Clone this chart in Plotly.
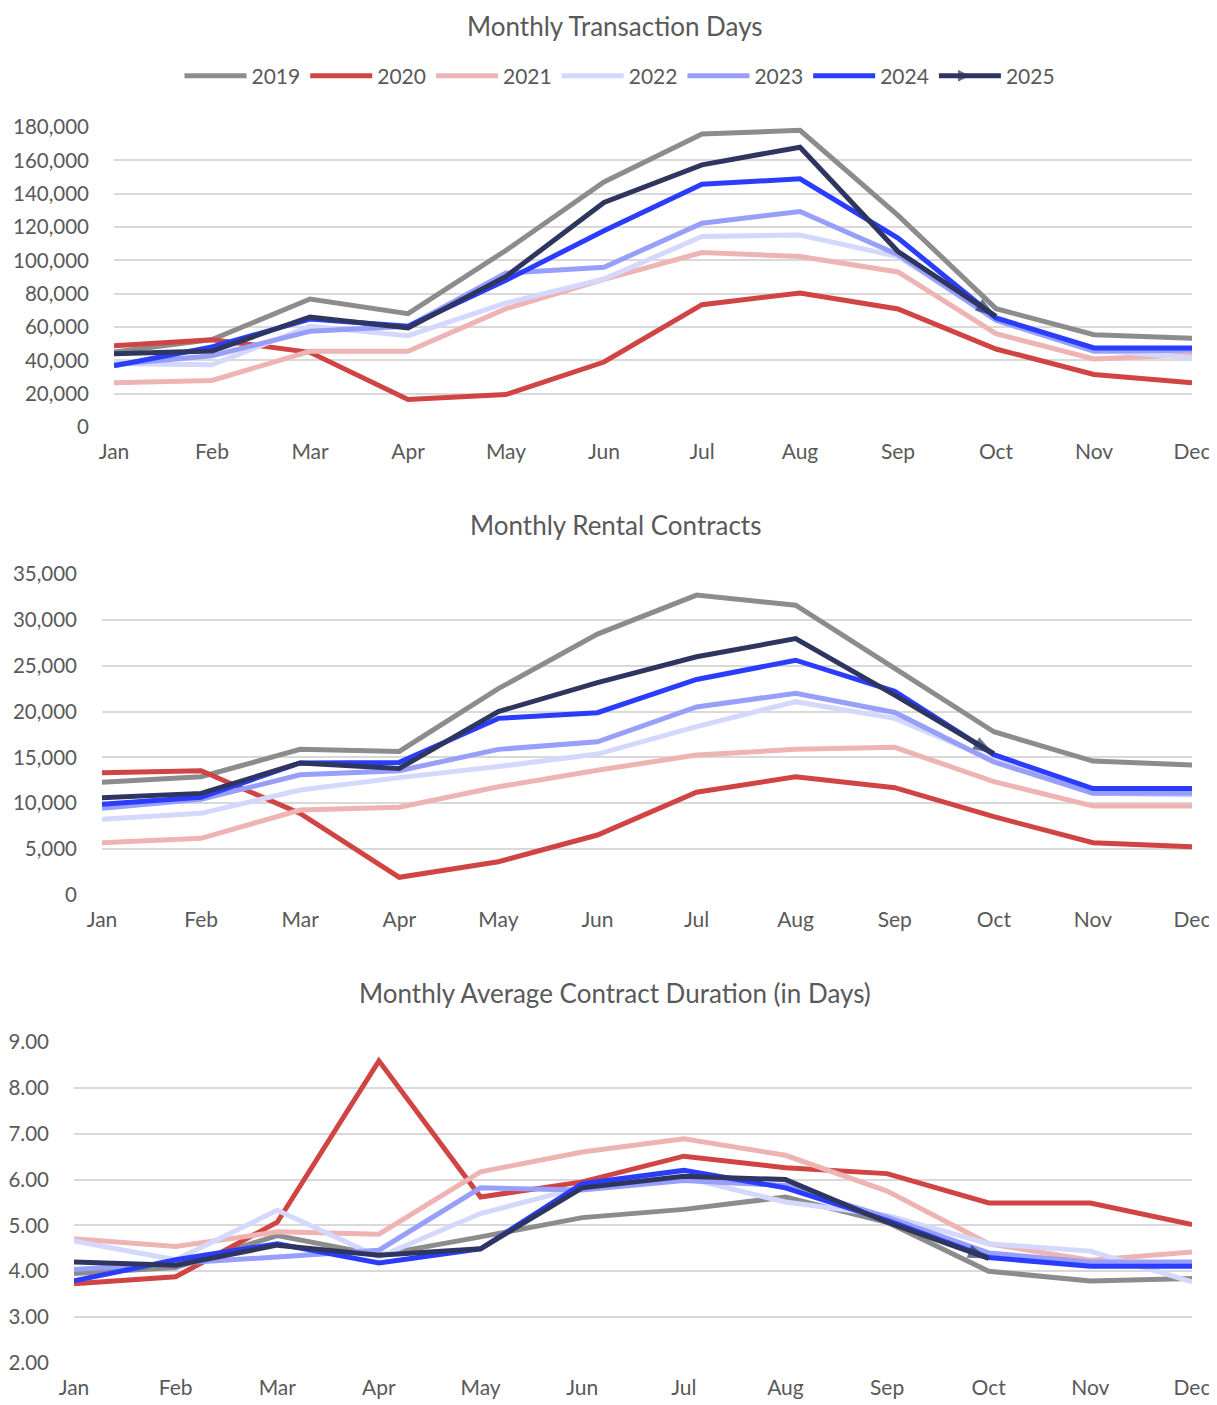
import plotly.graph_objects as go

months = ["Jan", "Feb", "Mar", "Apr", "May", "Jun", "Jul", "Aug", "Sep", "Oct", "Nov", "Dec"]
years = ["2019", "2020", "2021", "2022", "2023", "2024", "2025"]
colors = ["#8c8c8c", "#d04444", "#eeb4b4", "#d4d8fc", "#979ffa", "#2a3dff", "#2e3660"]

# Monthly Transaction Days
td_2019 = [45000, 52400, 76800, 68000, 106000, 147000, 175800, 178000, 127000, 71000, 55400, 53200]
td_2020 = [48800, 52400, 44800, 16500, 19500, 39000, 73400, 80400, 70800, 46800, 31500, 26500]
td_2021 = [26500, 27900, 45400, 45400, 71000, 88600, 104700, 102300, 93000, 56000, 40800, 43400]
td_2022 = [38000, 37400, 60400, 54800, 74400, 88800, 114300, 115200, 102300, 64400, 46400, 41500]
td_2023 = [37500, 42800, 57400, 60400, 92400, 95800, 122300, 129300, 103400, 64000, 45400, 46000]
td_2024 = [36800, 48000, 64800, 60400, 88000, 117700, 145700, 148900, 113400, 65400, 47400, 47400]
td_2025 = [44000, 45600, 66000, 59400, 90300, 134700, 157300, 167900, 105300, 66400]

# Monthly Rental Contracts
rc_2019 = [12280, 12900, 15880, 15660, 22500, 28450, 32700, 31600, 24700, 17800, 14600, 14170]
rc_2020 = [13340, 13550, 8900, 1930, 3630, 6540, 11200, 12900, 11700, 8540, 5700, 5270]
rc_2021 = [5700, 6180, 9270, 9560, 11800, 13600, 15260, 15880, 16100, 12360, 9700, 9700]
rc_2022 = [8250, 8900, 11450, 12800, 14000, 15370, 18350, 21080, 19260, 14700, 11100, 10900]
rc_2023 = [9450, 10430, 13100, 13550, 15880, 16700, 20500, 22000, 19900, 14500, 11100, 11100]
rc_2024 = [9900, 10650, 14400, 14460, 19260, 19880, 23500, 25600, 22200, 15300, 11600, 11600]
rc_2025 = [10600, 11080, 14400, 13800, 20000, 23150, 25980, 27950, 21800, 15400]

# Monthly Average Contract Duration (in Days)
cd_2019 = [3.95, 4.08, 4.78, 4.35, 4.75, 5.17, 5.35, 5.62, 5.07, 4.00, 3.79, 3.84]
cd_2020 = [3.73, 3.88, 5.07, 8.59, 5.62, 5.95, 6.51, 6.26, 6.13, 5.49, 5.49, 5.02]
cd_2021 = [4.71, 4.54, 4.86, 4.81, 6.17, 6.60, 6.89, 6.53, 5.75, 4.60, 4.24, 4.42]
cd_2022 = [4.66, 4.25, 5.33, 4.31, 5.26, 5.84, 6.05, 5.51, 5.22, 4.60, 4.44, 3.77]
cd_2023 = [4.04, 4.17, 4.31, 4.46, 5.82, 5.77, 5.98, 5.87, 5.18, 4.40, 4.20, 4.20]
cd_2024 = [3.79, 4.25, 4.60, 4.18, 4.49, 5.91, 6.20, 5.82, 5.11, 4.30, 4.11, 4.11]
cd_2025 = [4.20, 4.13, 4.57, 4.35, 4.49, 5.82, 6.07, 6.00, 5.07, 4.28]

titles = ["Monthly Transaction Days", "Monthly Rental Contracts",
          "Monthly Average Contract Duration (in Days)"]
datasets = [
    [td_2019, td_2020, td_2021, td_2022, td_2023, td_2024, td_2025],
    [rc_2019, rc_2020, rc_2021, rc_2022, rc_2023, rc_2024, rc_2025],
    [cd_2019, cd_2020, cd_2021, cd_2022, cd_2023, cd_2024, cd_2025],
]

# page body has an 8px margin, so the figure is 8px smaller and offset
W, H = 1209, 1397
OFF = 8
FONT = "Lato"
TXT = "#595959"
GRID = "#d9d9d9"
LW = 5

# pixel layout of the three panels in page coordinates: (left, right, top, bottom)
panels = [(114, 1192, 127, 427), (102, 1192, 574, 895), (74, 1192, 1042, 1363)]
title_y = [21, 525, 993]
yranges = [[0, 180000], [0, 35000], [2, 9]]
ydtick = [20000, 5000, 1]
yfmt = [",.0f", ",.0f", ".2f"]


def px(x):
    return (x - OFF) / W


def py(y):
    return 1 - (y - OFF) / H


fig = go.Figure()

for p, data in enumerate(datasets):
    xa = "x" if p == 0 else f"x{p+1}"
    ya = "y" if p == 0 else f"y{p+1}"
    for i, (yr, vals) in enumerate(zip(years, data)):
        n = len(vals)
        if yr == "2025":
            fig.add_trace(go.Scatter(
                x=months[:n], y=vals, name=yr, legendgroup=yr, showlegend=(p == 0),
                mode="lines+markers",
                line=dict(color=colors[i], width=LW),
                marker=dict(size=[0] * (n - 1) + [1], symbol="arrow-right",
                            color=colors[i], line=dict(width=0)),
                xaxis=xa, yaxis=ya, cliponaxis=False,
            ))
            # arrow head at the end of the 2025 line
            fig.add_trace(go.Scatter(
                x=months[n - 2:n], y=vals[n - 2:n], showlegend=False, legendgroup=yr,
                mode="markers",
                marker=dict(size=[0, 22], symbol="arrow", angleref="previous",
                            color=colors[i], line=dict(width=0)),
                xaxis=xa, yaxis=ya, cliponaxis=False, hoverinfo="skip",
            ))
        else:
            fig.add_trace(go.Scatter(
                x=months[:n], y=vals, name=yr, legendgroup=yr, showlegend=(p == 0),
                mode="lines", line=dict(color=colors[i], width=LW),
                xaxis=xa, yaxis=ya, cliponaxis=False,
            ))

    l, r, t, b = panels[p]
    xkey = "xaxis" if p == 0 else f"xaxis{p+1}"
    ykey = "yaxis" if p == 0 else f"yaxis{p+1}"
    fig.update_layout(**{
        xkey: dict(
            domain=[px(l), px(r)], anchor=ya, type="category",
            categoryorder="array", categoryarray=months, automargin=False,
            range=[0, 11], showgrid=False, zeroline=False, showline=False,
            ticks="", tickfont=dict(family=FONT, size=21, color=TXT),
            ticklabelstandoff=10,
        ),
        ykey: dict(
            domain=[py(b), py(t)], anchor=xa, automargin=False,
            range=yranges[p], dtick=ydtick[p], tick0=yranges[p][0],
            tickformat=yfmt[p], showgrid=True, gridcolor=GRID, gridwidth=1.5,
            zeroline=False, showline=False, ticks="",
            tickfont=dict(family=FONT, size=20.5, color=TXT),
            ticklabelstandoff=24,
        ),
    })
    if p == 0:
        fig.add_annotation(
            text=titles[p], xref="paper", yref="paper", x=px(615), y=1,
            xanchor="center", yanchor="top", showarrow=False,
            font=dict(family=FONT, size=26, color=TXT),
        )
    else:
        fig.add_annotation(
            text=titles[p], xref="paper", yref="paper", x=px(615), y=py(title_y[p]),
            xanchor="center", yanchor="middle", showarrow=False,
            font=dict(family=FONT, size=26, color=TXT),
        )

fig.update_layout(
    template="none",
    width=W, height=H,
    margin=dict(l=0, r=0, t=0, b=0, autoexpand=False),
    paper_bgcolor="white", plot_bgcolor="white",
    font=dict(family=FONT, color=TXT),
    legend=dict(
        orientation="h", x=px(620), xanchor="center", y=py(76), yanchor="middle",
        font=dict(family=FONT, size=21, color=TXT), itemsizing="constant",
        itemwidth=62, tracegroupgap=0, bgcolor="rgba(0,0,0,0)",
    ),
    showlegend=True,
)

fig.write_html("out.html")
